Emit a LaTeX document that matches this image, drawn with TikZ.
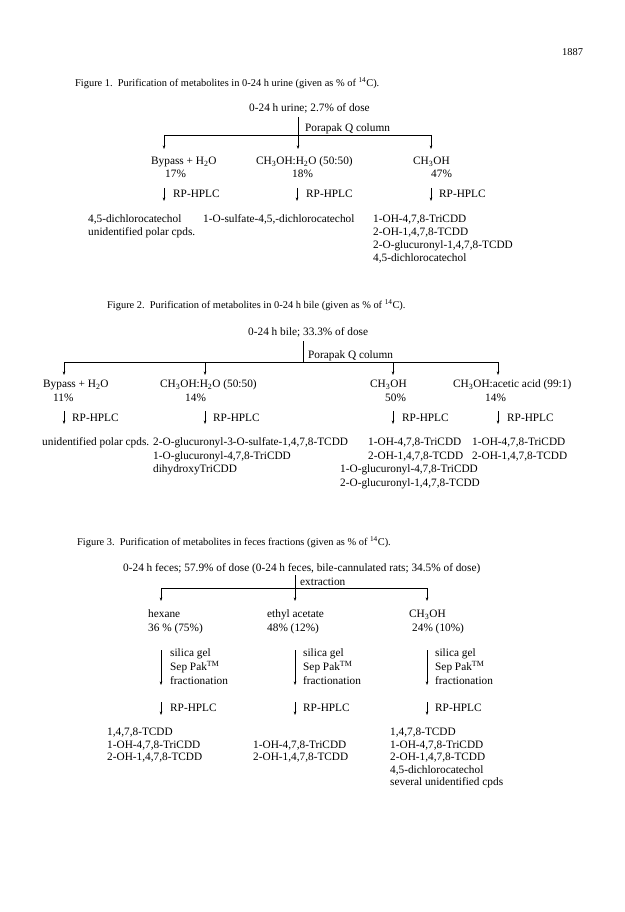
\documentclass[tikz,border=0pt]{standalone}
\usepackage{fontspec}
\setmainfont{Liberation Serif}
\usetikzlibrary{arrows.meta}
\begin{document}
\begin{tikzpicture}[x=1pt,y=1pt,yscale=-1,
  txt/.style={anchor=base west,inner sep=0pt,font=\fontsize{11.3}{13}\selectfont},
  capt/.style={anchor=base west,inner sep=0pt,font=\fontsize{10.4}{12}\selectfont},
  arr/.style={line width=0.7pt,-{Stealth[length=3.5pt,width=2.6pt]}},
  rule/.style={line width=0.9pt}]
\fill[white] (0,0) rectangle (624,912);
\useasboundingbox (0,0) rectangle (624,912);
\node[capt] (pageno) at (562,55.5) {1887};
% Figure 1
\node[capt] (u-cap) at (75,86.5) {Figure 1.\ \ Purification of metabolites in 0-24 h urine (given as \% of \textsuperscript{14}C).};
\node[txt] (u-src) at (249,112) {0-24 h urine; 2.7\% of dose};
\node[txt] (u-col) at (305,132) {Porapak Q column};
\coordinate (u-top) at (298,117);
\coordinate (u-bl) at (164,135);
\coordinate (u-br) at (431,135);
\coordinate (u-e1) at (164,149);
\coordinate (u-e2) at (298,149);
\coordinate (u-e3) at (431,149);
\draw[rule] (u-bl) -- (u-br);
\draw[arr] (u-bl) -- (u-e1);
\draw[arr] (u-top) -- (u-e2);
\draw[arr] (u-br) -- (u-e3);
\node[txt] (u-byp) at (151,164.5) {Bypass + H\textsubscript{2}O};
\node[txt] (u-byp-p) at (165,178) {17\%};
\node[txt] (u-mix) at (256,164.5) {CH\textsubscript{3}OH:H\textsubscript{2}O (50:50)};
\node[txt] (u-mix-p) at (292,178) {18\%};
\node[txt] (u-meoh) at (413,164.5) {CH\textsubscript{3}OH};
\node[txt] (u-meoh-p) at (431,178) {47\%};
\coordinate (u-h1a) at (164,188);
\coordinate (u-h1b) at (164,201);
\coordinate (u-h2a) at (297,188);
\coordinate (u-h2b) at (297,201);
\coordinate (u-h3a) at (431,188);
\coordinate (u-h3b) at (431,201);
\draw[arr] (u-h1a) -- (u-h1b);
\draw[arr] (u-h2a) -- (u-h2b);
\draw[arr] (u-h3a) -- (u-h3b);
\node[txt] (u-hplc1) at (173,197) {RP-HPLC};
\node[txt] (u-hplc2) at (306,197) {RP-HPLC};
\node[txt] (u-hplc3) at (439,197) {RP-HPLC};
\node[txt] (u-r1a) at (88,222) {4,5-dichlorocatechol};
\node[txt] (u-r1b) at (88,235.3) {unidentified polar cpds.};
\node[txt] (u-r2a) at (203,222) {1-O-sulfate-4,5,-dichlorocatechol};
\node[txt] (u-r3a) at (373,222) {1-OH-4,7,8-TriCDD};
\node[txt] (u-r3b) at (373,235.3) {2-OH-1,4,7,8-TCDD};
\node[txt] (u-r3c) at (373,248.6) {2-O-glucuronyl-1,4,7,8-TCDD};
\node[txt] (u-r3d) at (373,261.9) {4,5-dichlorocatechol};
% Figure 2
\node[capt] (b-cap) at (107,308.5) {Figure 2.\ \ Purification of metabolites in 0-24 h bile (given as \% of \textsuperscript{14}C).};
\node[txt] (b-src) at (248,335.5) {0-24 h bile; 33.3\% of dose};
\node[txt] (b-col) at (308,358) {Porapak Q column};
\coordinate (b-top) at (303,341);
\coordinate (b-mid) at (303,362);
\coordinate (b-bl) at (64,362);
\coordinate (b-b2) at (205,362);
\coordinate (b-b3) at (393,362);
\coordinate (b-br) at (498,362);
\coordinate (b-e1) at (64,375);
\coordinate (b-e2) at (205,375);
\coordinate (b-e3) at (393,375);
\coordinate (b-e4) at (498,375);
\draw[rule] (b-top) -- (b-mid);
\draw[rule] (b-bl) -- (b-br);
\draw[arr] (b-bl) -- (b-e1);
\draw[arr] (b-b2) -- (b-e2);
\draw[arr] (b-b3) -- (b-e3);
\draw[arr] (b-br) -- (b-e4);
\node[txt] (b-byp) at (43,387.5) {Bypass + H\textsubscript{2}O};
\node[txt] (b-byp-p) at (53,401.5) {11\%};
\node[txt] (b-mix) at (160,387.5) {CH\textsubscript{3}OH:H\textsubscript{2}O (50:50)};
\node[txt] (b-mix-p) at (185,401.5) {14\%};
\node[txt] (b-meoh) at (370,387.5) {CH\textsubscript{3}OH};
\node[txt] (b-meoh-p) at (385,401.5) {50\%};
\node[txt] (b-acid) at (453,387.5) {CH\textsubscript{3}OH:acetic acid (99:1)};
\node[txt] (b-acid-p) at (485,401.5) {14\%};
\coordinate (b-h1a) at (64,411);
\coordinate (b-h1b) at (64,424);
\coordinate (b-h2a) at (205,411);
\coordinate (b-h2b) at (205,424);
\coordinate (b-h3a) at (393,411);
\coordinate (b-h3b) at (393,424);
\coordinate (b-h4a) at (498,411);
\coordinate (b-h4b) at (498,424);
\draw[arr] (b-h1a) -- (b-h1b);
\draw[arr] (b-h2a) -- (b-h2b);
\draw[arr] (b-h3a) -- (b-h3b);
\draw[arr] (b-h4a) -- (b-h4b);
\node[txt] (b-hplc1) at (72,421) {RP-HPLC};
\node[txt] (b-hplc2) at (213,421) {RP-HPLC};
\node[txt] (b-hplc3) at (402,421) {RP-HPLC};
\node[txt] (b-hplc4) at (507,421) {RP-HPLC};
\node[txt] (b-r1a) at (42,445.5) {unidentified polar cpds.};
\node[txt] (b-r2a) at (153,445.5) {2-O-glucuronyl-3-O-sulfate-1,4,7,8-TCDD};
\node[txt] (b-r2b) at (153,459) {1-O-glucuronyl-4,7,8-TriCDD};
\node[txt] (b-r2c) at (153,472.5) {dihydroxyTriCDD};
\node[txt] (b-r3a) at (368,445.5) {1-OH-4,7,8-TriCDD};
\node[txt] (b-r3b) at (368,459) {2-OH-1,4,7,8-TCDD};
\node[txt] (b-r3c) at (340,472.5) {1-O-glucuronyl-4,7,8-TriCDD};
\node[txt] (b-r3d) at (340,486) {2-O-glucuronyl-1,4,7,8-TCDD};
\node[txt] (b-r4a) at (472,445.5) {1-OH-4,7,8-TriCDD};
\node[txt] (b-r4b) at (472,459) {2-OH-1,4,7,8-TCDD};
% Figure 3
\node[capt] (f-cap) at (77,545.5) {Figure 3.\ \ Purification of metabolites in feces fractions (given as \% of \textsuperscript{14}C).};
\node[txt] (f-src) at (123,571.5) {0-24 h feces; 57.9\% of dose (0-24 h feces, bile-cannulated rats; 34.5\% of dose)};
\node[txt] (f-ext) at (300,585) {extraction};
\coordinate (f-top) at (295,575);
\coordinate (f-bl) at (161,588);
\coordinate (f-br) at (427,588);
\coordinate (f-e1) at (161,601);
\coordinate (f-e2) at (295,601);
\coordinate (f-e3) at (427,601);
\draw[rule] (f-bl) -- (f-br);
\draw[arr] (f-bl) -- (f-e1);
\draw[arr] (f-top) -- (f-e2);
\draw[arr] (f-br) -- (f-e3);
\node[txt] (f-hex) at (148,617.5) {hexane};
\node[txt] (f-hex-p) at (148,631.5) {36 \% (75\%)};
\node[txt] (f-eta) at (267,617.5) {ethyl acetate};
\node[txt] (f-eta-p) at (267,631.5) {48\% (12\%)};
\node[txt] (f-meoh) at (409,617.5) {CH\textsubscript{3}OH};
\node[txt] (f-meoh-p) at (412,631.5) {24\% (10\%)};
\coordinate (f-s1a) at (161,650);
\coordinate (f-s1b) at (161,685);
\coordinate (f-s2a) at (295,650);
\coordinate (f-s2b) at (295,685);
\coordinate (f-s3a) at (427,650);
\coordinate (f-s3b) at (427,685);
\draw[arr] (f-s1a) -- (f-s1b);
\draw[arr] (f-s2a) -- (f-s2b);
\draw[arr] (f-s3a) -- (f-s3b);
\node[txt] (f-sil1a) at (170,656.5) {silica gel};
\node[txt] (f-sil1b) at (170,670) {Sep Pak\textsuperscript{TM}};
\node[txt] (f-sil1c) at (170,684) {fractionation};
\node[txt] (f-sil2a) at (303,656.5) {silica gel};
\node[txt] (f-sil2b) at (303,670) {Sep Pak\textsuperscript{TM}};
\node[txt] (f-sil2c) at (303,684) {fractionation};
\node[txt] (f-sil3a) at (435,656.5) {silica gel};
\node[txt] (f-sil3b) at (435,670) {Sep Pak\textsuperscript{TM}};
\node[txt] (f-sil3c) at (435,684) {fractionation};
\coordinate (f-h1a) at (161,702);
\coordinate (f-h1b) at (161,715);
\coordinate (f-h2a) at (295,702);
\coordinate (f-h2b) at (295,715);
\coordinate (f-h3a) at (427,702);
\coordinate (f-h3b) at (427,715);
\draw[arr] (f-h1a) -- (f-h1b);
\draw[arr] (f-h2a) -- (f-h2b);
\draw[arr] (f-h3a) -- (f-h3b);
\node[txt] (f-hplc1) at (170,711.5) {RP-HPLC};
\node[txt] (f-hplc2) at (303,711.5) {RP-HPLC};
\node[txt] (f-hplc3) at (435,711.5) {RP-HPLC};
\node[txt] (f-r1a) at (107,735.5) {1,4,7,8-TCDD};
\node[txt] (f-r1b) at (107,748) {1-OH-4,7,8-TriCDD};
\node[txt] (f-r1c) at (107,760.5) {2-OH-1,4,7,8-TCDD};
\node[txt] (f-r2b) at (253,748) {1-OH-4,7,8-TriCDD};
\node[txt] (f-r2c) at (253,760.5) {2-OH-1,4,7,8-TCDD};
\node[txt] (f-r3a) at (390,735.5) {1,4,7,8-TCDD};
\node[txt] (f-r3b) at (390,748) {1-OH-4,7,8-TriCDD};
\node[txt] (f-r3c) at (390,760.5) {2-OH-1,4,7,8-TCDD};
\node[txt] (f-r3d) at (390,773) {4,5-dichlorocatechol};
\node[txt] (f-r3e) at (390,785.5) {several unidentified cpds};
\end{tikzpicture}
\end{document}
